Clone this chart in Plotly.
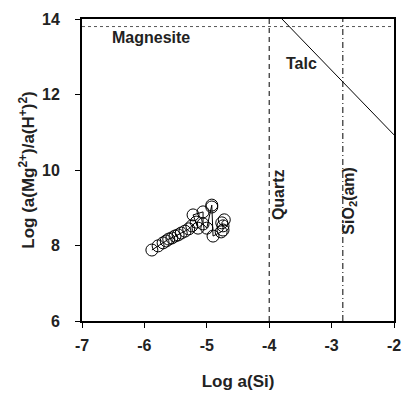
import plotly.graph_objects as go

# Data
log_si = [-5.88, -5.78, -5.70, -5.65, -5.61, -5.56, -5.51, -5.46, -5.41, -5.35, -5.29, -5.24, -5.17,
          -5.14, -5.22, -5.06, -5.06, -5.00, -4.92, -4.92, -4.90, -4.77, -4.74, -4.74, -4.76, -4.72]
log_mg = [7.88, 7.99, 8.07, 8.12, 8.17, 8.20, 8.25, 8.28, 8.33, 8.38, 8.44, 8.52, 8.62,
          8.46, 8.81, 8.89, 8.57, 8.46, 9.02, 9.07, 8.25, 8.36, 8.41, 8.52, 8.60, 8.68]

x_ticks = [-7, -6, -5, -4, -3, -2]
x_tick_labels = ["-7", "-6", "-5", "-4", "-3", "-2"]
y_ticks = [6, 8, 10, 12, 14]
y_tick_labels = ["6", "8", "10", "12", "14"]

magnesite_y = 13.8
quartz_x = -4.0
sio2am_x = -2.82
talc_x = [-3.795, -2.0]
talc_y = [14.0, 10.93]

font = "Liberation Sans, Arial, sans-serif"
txt = "#222222"

fig = go.Figure()
fig.add_trace(go.Scatter(x=[-7, -2], y=[magnesite_y, magnesite_y], mode="lines",
                         line=dict(color="#555555", width=1, dash="dot"), showlegend=False))
fig.add_trace(go.Scatter(x=[quartz_x, quartz_x], y=[6, 14], mode="lines",
                         line=dict(color="black", width=1, dash="5px,4px"), showlegend=False))
fig.add_trace(go.Scatter(x=[sio2am_x, sio2am_x], y=[6, 14], mode="lines",
                         line=dict(color="black", width=1, dash="6px,3px,1px,3px"), showlegend=False))
fig.add_trace(go.Scatter(x=talc_x, y=talc_y, mode="lines",
                         line=dict(color="black", width=1), showlegend=False))
fig.add_trace(go.Scatter(x=log_si, y=log_mg, mode="lines+markers",
                         line=dict(color="black", width=1),
                         marker=dict(symbol="circle-open", size=12, color="black", line=dict(width=1)),
                         showlegend=False))

annots = [
    dict(x=-5.89, y=13.5, text="<b>Magnesite</b>", textangle=0),
    dict(x=-3.48, y=12.83, text="<b>Talc</b>", textangle=0),
    dict(x=-3.86, y=9.36, text="<b>Quartz</b>", textangle=-90),
    dict(x=-2.71, y=9.18, text="<b>SiO<sub>2</sub>(am)</b>", textangle=-90),
]
for a in annots:
    fig.add_annotation(x=a["x"], y=a["y"], text=a["text"], textangle=a["textangle"],
                       showarrow=False, font=dict(family=font, size=16, color=txt))

axis_common = dict(showgrid=False, zeroline=False, showline=True, linecolor="black", linewidth=2,
                   mirror=True, ticks="outside", ticklen=5, tickcolor="black", tickwidth=1,
                   automargin=False,
                   tickfont=dict(family=font, size=16, color=txt, weight="bold"))

fig.update_xaxes(range=[-7, -2], tickmode="array", tickvals=x_ticks, ticktext=x_tick_labels,
                 ticklabelstandoff=4,
                 title=dict(text="<b>Log a(Si)</b>", font=dict(family=font, size=17, color=txt), standoff=22),
                 **axis_common)
fig.update_yaxes(range=[6, 14], tickmode="array", tickvals=y_ticks, ticktext=y_tick_labels,
                 ticklabelstandoff=12,
                 title=dict(text="<b>Log (a(Mg<sup>2+</sup>)/a(H<sup>+</sup>)<sup>2</sup>)</b>",
                            font=dict(family=font, size=17, color=txt), standoff=3),
                 **axis_common)
fig.update_layout(width=403, height=395, margin=dict(l=82, r=9, t=19, b=74),
                  plot_bgcolor="white", paper_bgcolor="white")
fig.write_html("out.html", config={"displayModeBar": False},
               post_script="document.body.style.margin='0';")
